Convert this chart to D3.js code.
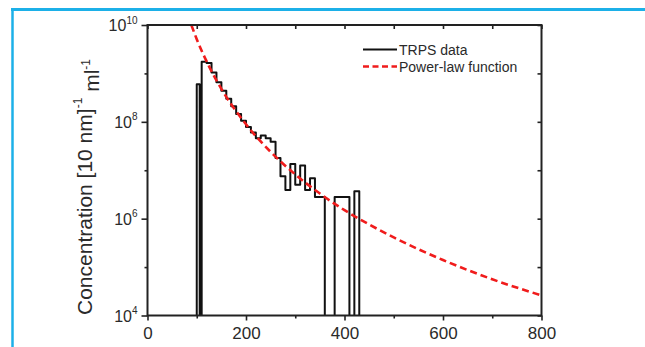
<!DOCTYPE html>
<html>
<head>
<meta charset="utf-8">
<script src="https://cdn.jsdelivr.net/npm/d3@7"></script>
<style>
  body { margin: 0; background: #fff; }
  text { font-family: "Liberation Sans", Arial, sans-serif; fill: #2a2a2a; }
</style>
</head>
<body>
<script>
// TRPS histogram: left edge of each 10 nm bin and its concentration (0 = empty bin)
var binLeft = [100, 110, 120, 130, 140, 150, 160, 170, 180, 190, 200, 210, 220, 230, 240,
               250, 260, 270, 280, 290, 300, 310, 320, 330, 340, 350, 360, 370, 380, 390,
               400, 410, 420];
var trpsConc = [6.0e8, 1.75e9, 1.65e9, 1.05e9, 6.6e8, 4.4e8, 3.0e8, 2.1e8, 1.45e8, 1.05e8,
                7.8e7, 6.0e7, 4.6e7, 5.2e7, 4.6e7, 3.9e7, 1.8e7, 7.5e6, 3.9e6, 1.35e7,
                5.0e6, 1.25e7, 3.9e6, 6.8e6, 2.8e6, 2.8e6, 0, 0, 2.8e6, 2.8e6,
                2.8e6, 0, 3.7e6];
var binWidth = 10;
var standalone = [100]; // bins outlined as their own column

// power-law function
var fitSize = [89, 100, 125, 150, 200, 250, 300, 350, 400, 450, 500, 600, 700, 800];
var fitConc = [1.0e10, 5.1e9, 1.4e9, 4.8e8, 8.9e7, 2.4e7, 8.2e6, 3.3e6, 1.5e6, 7.6e5,
               4.1e5, 1.4e5, 5.6e4, 2.6e4];

var xTicks = [0, 200, 400, 600, 800];
var xMinor = [100, 300, 500, 700];
var yTicks = [1e4, 1e6, 1e8, 1e10];
var yMinor = [1e5, 1e7, 1e9];
var legendLabels = ["TRPS data", "Power-law function"];

var W = 645, H = 347;
var pLeft = 147.5, pRight = 541.5, pTop = 25, pBottom = 315.5;

var svg = d3.select("body").append("svg")
    .attr("width", W)
    .attr("height", H);

// blue frame of the figure
svg.append("line").attr("x1", 11).attr("x2", W).attr("y1", 9.5).attr("y2", 9.5)
    .attr("stroke", "#1cb0e8").attr("stroke-width", 3);
svg.append("line").attr("x1", 12.5).attr("x2", 12.5).attr("y1", 8).attr("y2", H)
    .attr("stroke", "#1cb0e8").attr("stroke-width", 2.5);

var x = d3.scaleLinear().domain([0, 800]).range([pLeft, pRight]);
var y = d3.scaleLog().domain([1e4, 1e10]).range([pBottom, pTop]);

svg.append("clipPath").attr("id", "plot")
  .append("rect").attr("x", pLeft).attr("y", pTop)
    .attr("width", pRight - pLeft).attr("height", pBottom - pTop);

// histogram outline as a step line
var y0 = y(1e4);
var d = "";
binLeft.forEach(function(b, i) {
  var v = trpsConc[i];
  if (!v) return;
  var prevOpen = i > 0 && trpsConc[i - 1] > 0 && standalone.indexOf(binLeft[i - 1]) < 0;
  var next = i < binLeft.length - 1 && trpsConc[i + 1] > 0;
  var closes = !next || standalone.indexOf(b) >= 0;
  var x1 = x(b + binWidth);
  if (closes && next) x1 -= 2;
  if (!prevOpen) d += "M" + x(b) + "," + y0;
  d += "V" + y(v) + "H" + x1;
  if (closes) d += "V" + y0;
});

svg.append("path")
    .attr("d", d)
    .attr("fill", "none")
    .attr("stroke", "#111")
    .attr("stroke-width", 2)
    .attr("stroke-linejoin", "round");

// power-law curve
var fitLine = d3.line()
    .x(function(d, i) { return x(fitSize[i]); })
    .y(function(d) { return y(d); })
    .curve(d3.curveMonotoneX);

svg.append("path")
    .datum(fitConc)
    .attr("clip-path", "url(#plot)")
    .attr("d", fitLine)
    .attr("fill", "none")
    .attr("stroke", "#f01c1c")
    .attr("stroke-width", 2.6)
    .attr("stroke-dasharray", "7,4");

// axes
function styleAxis(g) {
  g.select(".domain").remove();
  g.selectAll(".tick line").attr("stroke", "#222").attr("stroke-width", 1.6);
}

svg.append("g").attr("transform", "translate(0," + pBottom + ")")
    .call(d3.axisBottom(x).tickValues(xTicks).tickSize(5).tickPadding(6).tickFormat(d3.format("d")))
    .call(styleAxis)
    .selectAll("text").attr("font-size", 17).attr("fill", "#2a2a2a")
    .attr("font-family", "Liberation Sans, Arial, sans-serif");
svg.append("g").attr("transform", "translate(0," + pBottom + ")")
    .call(d3.axisBottom(x).tickValues(xMinor).tickSize(3).tickFormat(""))
    .call(styleAxis);
svg.append("g").attr("transform", "translate(0," + pTop + ")")
    .call(d3.axisTop(x).tickValues(xTicks.concat(xMinor)).tickSize(-4).tickFormat(""))
    .call(styleAxis);

var yAxis = svg.append("g").attr("transform", "translate(" + pLeft + ",0)")
    .call(d3.axisLeft(y).tickValues(yTicks).tickSize(6).tickFormat(""))
    .call(styleAxis);
yAxis.selectAll(".tick").append("text")
    .attr("x", -10).attr("dy", "0.35em")
    .attr("text-anchor", "end")
    .attr("font-size", 16)
    .attr("fill", "#2a2a2a")
    .each(function(d) {
      var t = d3.select(this);
      t.append("tspan").text("10");
      t.append("tspan").attr("font-size", 10).attr("dy", "-0.75em")
        .text(Math.round(Math.log10(d)));
    });
svg.append("g").attr("transform", "translate(" + pLeft + ",0)")
    .call(d3.axisLeft(y).tickValues(yMinor).tickSize(3).tickFormat(""))
    .call(styleAxis);
svg.append("g").attr("transform", "translate(" + pRight + ",0)")
    .call(d3.axisRight(y).tickValues(yTicks.concat(yMinor)).tickSize(-4).tickFormat(""))
    .call(styleAxis);

// plot frame
svg.append("rect")
    .attr("x", pLeft).attr("y", pTop)
    .attr("width", pRight - pLeft).attr("height", pBottom - pTop)
    .attr("fill", "none")
    .attr("stroke", "#222")
    .attr("stroke-width", 2);

// y axis title
var title = svg.append("text")
    .attr("transform", "translate(92,187) rotate(-90)")
    .attr("text-anchor", "middle")
    .attr("font-size", 21);
title.append("tspan").text("Concentration [10 nm]");
title.append("tspan").attr("font-size", 12).attr("dy", "-0.8em").text("-1");
title.append("tspan").attr("dy", "0.8em").text(" ml");
title.append("tspan").attr("font-size", 12).attr("dy", "-0.8em").text("-1");

// legend
var legend = svg.append("g").attr("transform", "translate(363,49.5)");
legend.append("line").attr("x1", 0).attr("x2", 34)
    .attr("stroke", "#111").attr("stroke-width", 1.8);
legend.append("line").attr("x1", 0).attr("x2", 34).attr("y1", 17).attr("y2", 17)
    .attr("stroke", "#f01c1c").attr("stroke-width", 2.6).attr("stroke-dasharray", "6,3.5");
legend.selectAll("text.lab").data(legendLabels).enter().append("text")
    .attr("class", "lab")
    .attr("x", 36)
    .attr("y", function(d, i) { return 5 + i * 17.5; })
    .attr("font-size", 14)
    .text(function(d) { return d; });
</script>
</body>
</html>
